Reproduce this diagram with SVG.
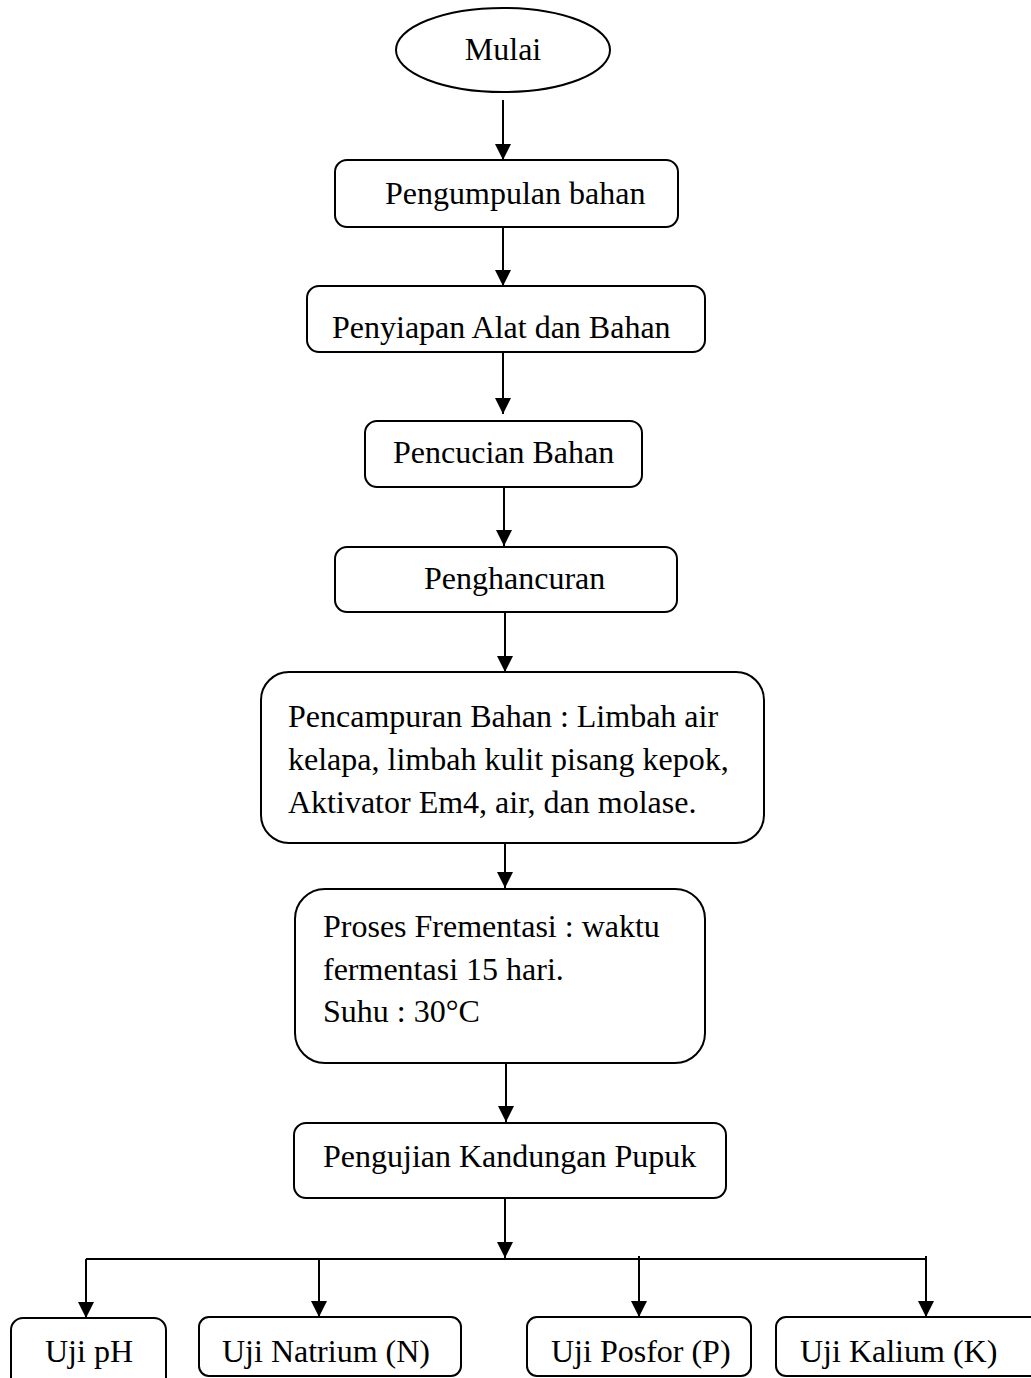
<svg xmlns="http://www.w3.org/2000/svg" width="1031" height="1378" viewBox="0 0 1031 1378">
<defs>
<marker id="arr" markerUnits="userSpaceOnUse" markerWidth="16" markerHeight="16" viewBox="0 0 15 15" refX="15" refY="7.5" orient="auto">
<path d="M0,0 L15,7.5 L0,15 Z" fill="#000"/>
</marker>
<style>
.box{fill:#fff;stroke:#000;stroke-width:2}
.t{font-family:"Liberation Serif","Times New Roman",serif;font-size:32px;fill:#000}
.c{stroke:#000;stroke-width:2;fill:none}
.a{marker-end:url(#arr)}
</style>
</defs>
<rect width="1031" height="1378" fill="#fff"/>
<g id="connectors">
<line class="c a" x1="503" y1="100" x2="503" y2="160"/>
<line class="c a" x1="503" y1="227" x2="503" y2="286"/>
<line class="c a" x1="503" y1="352" x2="503" y2="414"/>
<line class="c a" x1="504" y1="487" x2="504" y2="546"/>
<line class="c a" x1="505" y1="612" x2="505" y2="672"/>
<line class="c a" x1="505" y1="829" x2="505" y2="888"/>
<line class="c a" x1="506" y1="1063" x2="506" y2="1122"/>
<line class="c a" x1="505" y1="1198" x2="505" y2="1258"/>
<line class="c" x1="86" y1="1259" x2="926" y2="1259"/>
<line class="c a" x1="86" y1="1259" x2="86" y2="1318"/>
<line class="c a" x1="319" y1="1259" x2="319" y2="1317"/>
<line class="c a" x1="639" y1="1256" x2="639" y2="1317"/>
<line class="c a" x1="926" y1="1256" x2="926" y2="1317"/>
</g>
<g id="mulai">
<ellipse class="box" cx="503" cy="50" rx="107" ry="42"/>
<text class="t" x="503" y="60" text-anchor="middle">Mulai</text>
</g>
<g id="pengumpulan">
<rect class="box" x="335" y="160" width="343" height="67" rx="12"/>
<text class="t" x="385" y="204">Pengumpulan bahan</text>
</g>
<g id="penyiapan">
<rect class="box" x="307" y="286" width="398" height="66" rx="12"/>
<text class="t" x="332" y="338">Penyiapan Alat dan Bahan</text>
</g>
<g id="pencucian">
<rect class="box" x="365" y="421" width="277" height="66" rx="12"/>
<text class="t" x="393" y="463">Pencucian Bahan</text>
</g>
<g id="penghancuran">
<rect class="box" x="335" y="547" width="342" height="65" rx="12"/>
<text class="t" x="424" y="589">Penghancuran</text>
</g>
<g id="pencampuran">
<rect class="box" x="261" y="672" width="503" height="171" rx="28"/>
<text class="t" x="288" y="727">Pencampuran Bahan : Limbah air</text>
<text class="t" x="288" y="770">kelapa, limbah kulit pisang kepok,</text>
<text class="t" x="288" y="813">Aktivator Em4, air, dan molase.</text>
</g>
<g id="fermentasi">
<rect class="box" x="295" y="889" width="410" height="174" rx="30"/>
<text class="t" x="323" y="937">Proses Frementasi : waktu</text>
<text class="t" x="323" y="980">fermentasi 15 hari.</text>
<text class="t" x="323" y="1022">Suhu : 30°C</text>
</g>
<g id="pengujian">
<rect class="box" x="294" y="1123" width="432" height="75" rx="12"/>
<text class="t" x="323" y="1167">Pengujian Kandungan Pupuk</text>
</g>
<g id="ujiph">
<rect class="box" x="11" y="1318" width="155" height="75" rx="12"/>
<text class="t" x="45" y="1362">Uji pH</text>
</g>
<g id="ujinatrium">
<rect class="box" x="199" y="1317" width="262" height="59" rx="10"/>
<text class="t" x="222" y="1362">Uji Natrium (N)</text>
</g>
<g id="ujiposfor">
<rect class="box" x="527" y="1317" width="224" height="59" rx="10"/>
<text class="t" x="551" y="1362">Uji Posfor (P)</text>
</g>
<g id="ujikalium">
<rect class="box" x="776" y="1317" width="270" height="59" rx="10"/>
<text class="t" x="800" y="1362">Uji Kalium (K)</text>
</g>
</svg>
